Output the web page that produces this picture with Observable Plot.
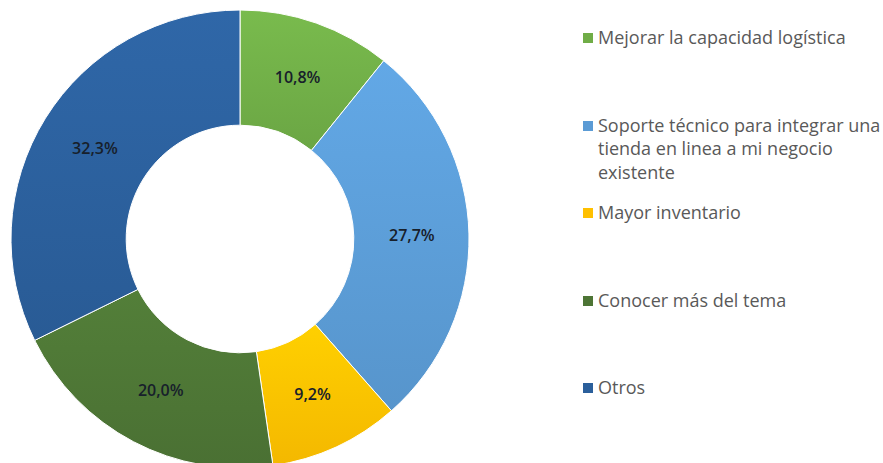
<!DOCTYPE html>
<html><head><meta charset="utf-8">
<script src="https://cdn.jsdelivr.net/npm/d3@7"></script>
<script src="https://cdn.jsdelivr.net/npm/@observablehq/plot@0.6"></script>
<style>
body{margin:0;background:#fff;}
#wrap{position:relative;width:883px;height:463px;overflow:hidden;background:#fff;}
#legend{position:absolute;left:0;top:0;width:883px;height:463px;font-family:"Open Sans","Noto Sans",sans-serif;font-size:18px;color:#595959;}
.item{position:absolute;left:583px;line-height:23.5px;}
.sw{position:absolute;left:0;width:10px;height:10px;}
.txt{position:absolute;left:15px;white-space:nowrap;}
</style></head><body><div id="wrap"><div id="chart"></div><div id="legend"></div></div>
<script>
const categories = ["Mejorar la capacidad logística", "Soporte técnico para integrar una tienda en linea a mi negocio existente", "Mayor inventario", "Conocer más del tema", "Otros"];
const legendLines = [["Mejorar la capacidad logística"], ["Soporte técnico para integrar una", "tienda en linea a mi negocio", "existente"], ["Mayor inventario"], ["Conocer más del tema"], ["Otros"]];
const values = [10.8, 27.7, 9.2, 20.0, 32.3];
const valueLabels = ["10,8%", "27,7%", "9,2%", "20,0%", "32,3%"];
const colors = ["#70ad47", "#5b9bd5", "#ffc000", "#4d7535", "#2b5f9b"];

const data = categories.map((c, i) => ({category: c, value: values[i], label: valueLabels[i]}));
const pie = d3.pie().value(d => d.value).sort(null)(data);
const inner = 0.497;
const unitArc = d3.arc().innerRadius(inner).outerRadius(1);
pie.forEach(p => { const [cx, cy] = unitArc.centroid(p); p.cx = cx; p.cy = -cy; });

function donut(index, scales) {
  const x0 = scales.x(0), y0 = scales.y(0), R = scales.x(1) - x0;
  const arc = d3.arc().innerRadius(R * inner).outerRadius(R);
  const g = d3.create("svg:g").attr("transform", `translate(${x0},${y0})`);
  const defs = g.append("defs");
  pie.forEach((p, i) => {
    const base = d3.color(scales.color(p.data.category));
    const lg = defs.append("linearGradient").attr("id", "grad" + i)
      .attr("x1", 0).attr("y1", 0).attr("x2", 0).attr("y2", 1);
    lg.append("stop").attr("offset", "0%").attr("stop-color", base.brighter(0.22).formatHex());
    lg.append("stop").attr("offset", "100%").attr("stop-color", base.darker(0.12).formatHex());
  });
  g.selectAll("path").data(pie).join("path")
    .attr("d", arc)
    .attr("fill", (d, i) => `url(#grad${i})`)
    .attr("stroke", "#fff").attr("stroke-width", 1);
  return g.node();
}

const chart = Plot.plot({
  width: 883, height: 463,
  margin: 0,
  x: {domain: [-1, 1], range: [11, 469], axis: null},
  y: {domain: [-1, 1], range: [468, 10], axis: null},
  color: {domain: categories, range: colors},
  marks: [
    Plot.dot(pie, {x: "cx", y: "cy", fill: d => d.data.category, r: 0}),
    donut,
    Plot.text(pie, {x: "cx", y: "cy", text: d => d.data.label, fill: "#17202b", fontSize: 16, fontWeight: 600, fontFamily: "'Open Sans', sans-serif"})
  ]
});
document.getElementById("chart").appendChild(chart);

const legend = d3.select("#legend");
legendLines.forEach((lines, i) => {
  const top = 38 + i * 87.5 - 11.75;
  const it = legend.append("div").attr("class", "item").style("top", top + "px");
  it.append("div").attr("class", "sw").style("top", "7px").style("background", colors[i]);
  const t = it.append("div").attr("class", "txt");
  lines.forEach(l => t.append("div").text(l));
});
</script>
</body></html>
